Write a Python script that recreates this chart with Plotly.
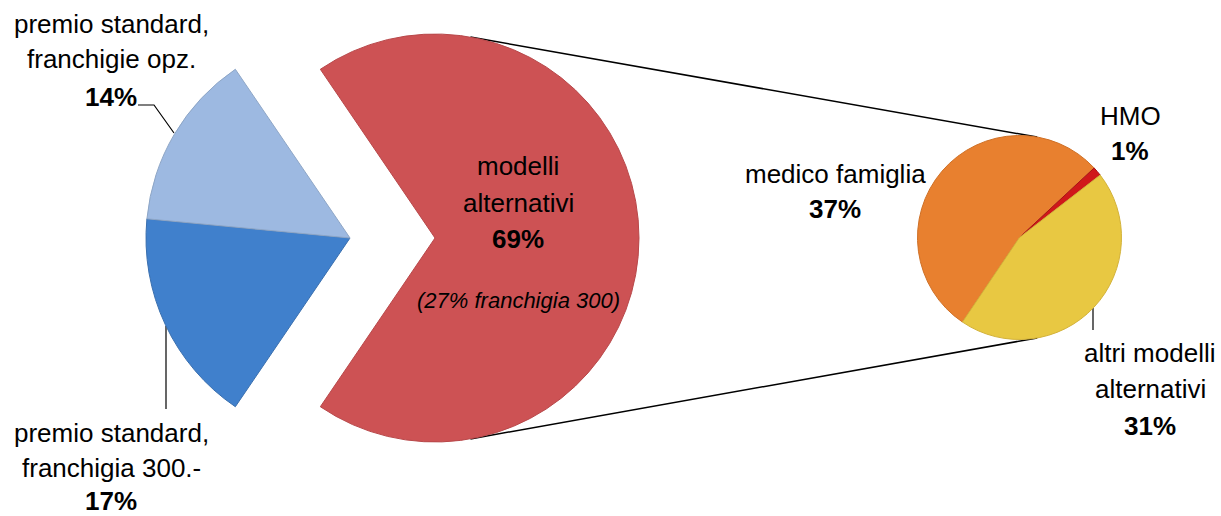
import math
import plotly.graph_objects as go

# ---------------- data ----------------
main_labels = ["premio standard,\nfranchigia 300.-", "premio standard,\nfranchigie opz.", "modelli\nalternativi"]
main_values = [17, 14, 69]
main_colors = ["#4080CC", "#9DB9E1", "#CD5254"]

sub_labels = ["medico famiglia", "HMO", "altri modelli\nalternativi"]
sub_values = [37, 1, 31]
sub_colors = ["#E8802F", "#D0171A", "#E8C842"]

note_text = "(27% franchigia 300)"

# ---------------- layout geometry (pixels) ----------------
W, H = 1221, 516
main_cx, main_cy, main_r = 350, 238, 204
explode_px = 85
sub_cx, sub_cy, sub_r = 1019.5, 237.5, 102
sub_rotation = 214
connector_angle = 10  # degrees from vertical
FONT = "Liberation Sans, Arial, sans-serif"
FS = 26
TRANSPARENT = "rgba(0,0,0,0)"


def dom(cx, cy, r):
    return dict(x=[(cx - r) / W, (cx + r) / W], y=[1 - (cy + r) / H, 1 - (cy - r) / H])


blue_total = sum(main_values[:2])
main_rotation = 270 - blue_total / sum(main_values) * 360 / 2

fig = go.Figure()

# invisible cartesian helper for lines (pixel coordinates)
def line(xs, ys, width=1.2):
    fig.add_trace(go.Scatter(x=xs, y=ys, mode="lines", line=dict(color="black", width=width),
                             hoverinfo="skip", showlegend=False))

# connector lines between the exploded slice and the secondary pie
a = math.radians(connector_angle)
red_cx = main_cx + explode_px
for sgn in (1, -1):
    x0 = red_cx + main_r * math.sin(a)
    y0 = main_cy - sgn * main_r * math.cos(a)
    x1 = sub_cx + sub_r * math.sin(a)
    y1 = sub_cy - sgn * sub_r * math.cos(a)
    line([x0, x1], [y0, y1], 1.5)

# leader lines of the labels
line([138, 154, 174], [105, 105, 133], 1.2)
line([166, 166], [326, 409], 1.2)
line([1093, 1093], [308, 330], 1.2)

plain = [l.replace("\n", " ") for l in main_labels]

# main pie: blue slices
fig.add_trace(go.Pie(
    labels=plain, values=main_values, sort=False, direction="clockwise",
    rotation=main_rotation, domain=dom(main_cx, main_cy, main_r),
    marker=dict(colors=[main_colors[0], main_colors[1], TRANSPARENT],
                line=dict(color=["#3a6fae", "#8ea6c6", TRANSPARENT], width=[1, 1, 0])),
    textinfo="none", showlegend=False, hoverinfo="label+percent"))

# main pie: exploded red slice
fig.add_trace(go.Pie(
    labels=plain, values=main_values, sort=False, direction="clockwise",
    rotation=main_rotation, domain=dom(red_cx, main_cy, main_r),
    marker=dict(colors=[TRANSPARENT, TRANSPARENT, main_colors[2]],
                line=dict(color=[TRANSPARENT, TRANSPARENT, "#b8484a"], width=[0, 0, 1])),
    textinfo="none", showlegend=False, hoverinfo="label+percent"))

# secondary pie
fig.add_trace(go.Pie(
    labels=[l.replace("\n", " ") for l in sub_labels], values=sub_values, sort=False,
    direction="clockwise", rotation=sub_rotation, domain=dom(sub_cx, sub_cy, sub_r),
    marker=dict(colors=sub_colors, line=dict(color=["#cf7026", "#a81214", "#d3b23a"], width=1)),
    textinfo="none", showlegend=False, hoverinfo="label+value"))

# ---------------- labels ----------------
def text_line(txt, x, baseline, size=FS, bold=False, italic=False):
    t = txt
    if bold:
        t = "<b>" + t + "</b>"
    if italic:
        t = "<i>" + t + "</i>"
    fig.add_annotation(x=x, y=baseline - 0.3465 * size, xref="x", yref="y", text=t,
                       showarrow=False, xanchor="center", yanchor="middle", borderpad=0,
                       font=dict(family=FONT, size=size, color="black"))


def label_block(name, value, x, baselines):
    lines = name.split("\n")
    for ln, b in zip(lines, baselines):
        text_line(ln, x, b)
    text_line(f"{value}%", x, baselines[len(lines)], bold=True)


label_block(main_labels[1], main_values[1], 111, [33, 68, 106])
label_block(main_labels[0], main_values[0], 111, [442, 477, 510])
label_block(main_labels[2], main_values[2], 518, [175, 212, 248])
text_line(note_text, 518, 308, size=22, italic=True)

label_block(sub_labels[0], sub_values[0], 835, [183, 218])
label_block(sub_labels[1], sub_values[1], 1130, [125, 160])
label_block(sub_labels[2], sub_values[2], 1150, [362, 398, 435])

fig.update_layout(
    width=W, height=H, margin=dict(l=0, r=0, t=0, b=0),
    paper_bgcolor="white", plot_bgcolor="white", showlegend=False,
    xaxis=dict(range=[0, W], visible=False, fixedrange=True),
    yaxis=dict(range=[H, 0], visible=False, fixedrange=True),
)

fig.write_html("out.html", config={"displayModeBar": False},
               post_script="document.body.style.margin='0';document.body.style.overflow='hidden';")
